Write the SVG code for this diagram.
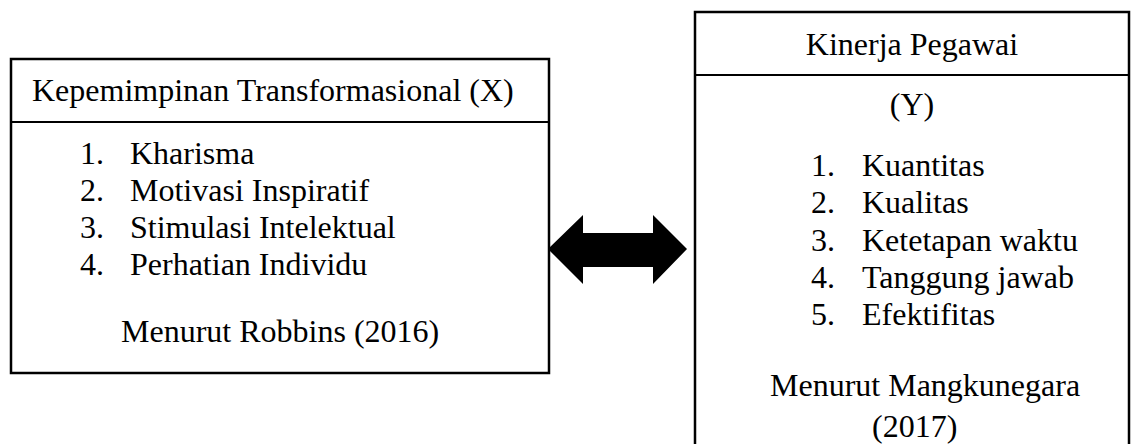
<svg xmlns="http://www.w3.org/2000/svg" width="1132" height="444" viewBox="0 0 1132 444">
<style>
.box{fill:#fff;stroke:#000;stroke-width:2.5}
.div{stroke:#000;stroke-width:2}
.t{font-family:"Liberation Serif","Times New Roman",serif;font-size:32px;fill:#000}
.c{text-anchor:middle}
</style>
<rect width="1132" height="444" fill="#fff"/>
<g id="node-x">
<rect class="box" x="11" y="59" width="538" height="314"/>
<line class="div" x1="11" y1="122" x2="549" y2="122"/>
<text class="t" x="32" y="101">Kepemimpinan Transformasional (X)</text>
<text class="t" x="80" y="164">1.</text><text class="t" x="130" y="164">Kharisma</text>
<text class="t" x="80" y="201">2.</text><text class="t" x="130" y="201">Motivasi Inspiratif</text>
<text class="t" x="80" y="238">3.</text><text class="t" x="130" y="238">Stimulasi Intelektual</text>
<text class="t" x="80" y="275">4.</text><text class="t" x="130" y="275">Perhatian Individu</text>
<text class="t" x="121" y="342">Menurut Robbins (2016)</text>
</g>
<g id="node-y">
<rect class="box" x="695" y="12" width="434" height="450"/>
<line class="div" x1="695" y1="75" x2="1129" y2="75"/>
<text class="t c" x="912" y="55">Kinerja Pegawai</text>
<text class="t c" x="912" y="115">(Y)</text>
<text class="t" x="811" y="176">1.</text><text class="t" x="862" y="176">Kuantitas</text>
<text class="t" x="811" y="213">2.</text><text class="t" x="862" y="213">Kualitas</text>
<text class="t" x="811" y="251">3.</text><text class="t" x="862" y="251">Ketetapan waktu</text>
<text class="t" x="811" y="288">4.</text><text class="t" x="862" y="288">Tanggung jawab</text>
<text class="t" x="811" y="325">5.</text><text class="t" x="862" y="325">Efektifitas</text>
<text class="t" x="770" y="396">Menurut Mangkunegara</text>
<text class="t" x="872" y="437">(2017)</text>
</g>
<g id="connectors">
<polygon points="548,249 583,215 583,233 653,233 653,215 687,249 653,284 653,267 583,267 583,284" fill="#000"/>
</g>
</svg>
